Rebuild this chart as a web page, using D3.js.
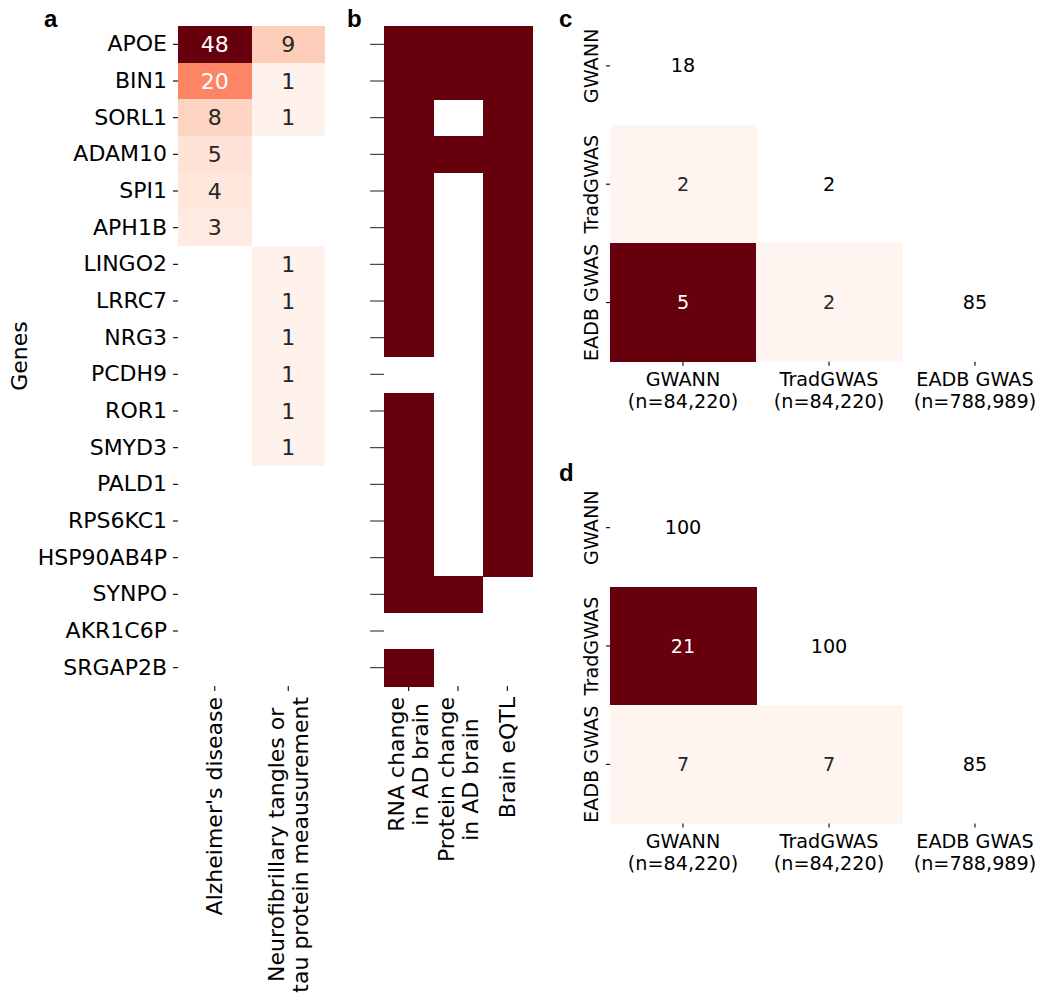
<!DOCTYPE html>
<html>
<head>
<meta charset="utf-8">
<script src="https://cdn.jsdelivr.net/npm/d3@7"></script>
<style>
  body { margin: 0; background: #fff; }
  svg text { font-family: "DejaVu Sans", sans-serif; }
  .panel-letter { font-family: "Liberation Sans", Arial, sans-serif !important; font-weight: bold; }
</style>
</head>
<body>
<svg id="chart" width="1040" height="993"></svg>
<script>
// ---- data ----
const genes = ["APOE", "BIN1", "SORL1", "ADAM10", "SPI1", "APH1B", "LINGO2", "LRRC7", "NRG3",
  "PCDH9", "ROR1", "SMYD3", "PALD1", "RPS6KC1", "HSP90AB4P", "SYNPO", "AKR1C6P", "SRGAP2B"];
const traitLabels = [["Alzheimer's disease"], ["Neurofibrillary tangles or", "tau protein meausurement"]];
const adCounts  = [48, 20, 8, 5, 4, 3, null, null, null, null, null, null, null, null, null, null, null, null];
const tauCounts = [9, 1, 1, null, null, null, 1, 1, 1, 1, 1, 1, null, null, null, null, null, null];

const evidenceLabels = [["RNA change", "in AD brain"], ["Protein change", "in AD brain"], ["Brain eQTL"]];
const rnaChange     = [1, 1, 1, 1, 1, 1, 1, 1, 1, 0, 1, 1, 1, 1, 1, 1, 0, 1];
const proteinChange = [1, 1, 0, 1, 0, 0, 0, 0, 0, 0, 0, 0, 0, 0, 0, 1, 0, 0];
const brainEqtl     = [1, 1, 1, 1, 1, 1, 1, 1, 1, 1, 1, 1, 1, 1, 1, 0, 0, 0];

const methods = ["GWANN", "TradGWAS", "EADB GWAS"];
const sampleSizes = ["(n=84,220)", "(n=84,220)", "(n=788,989)"];
// lower triangle, row = y method, col = x method
const overlapC = [[18, null, null], [2, 2, null], [5, 2, 85]];
const overlapD = [[100, null, null], [21, 100, null], [7, 7, 85]];

const darkRed = "#67000d";
const fsA = 22, fsC = 19.2;
const svg = d3.select("#chart");

// rotated (bottom-to-top) multi-line label, top of text block at yTop
function vLabel(g, cx, yTop, lines, size, spacing) {
  const n = lines.length;
  const texts = lines.map(function(line) {
    return g.append("text")
      .attr("font-size", size)
      .attr("text-anchor", "middle")
      .attr("dominant-baseline", "central")
      .attr("fill", "#000")
      .text(line);
  });
  const maxLen = d3.max(texts, function(t) { return t.node().getComputedTextLength(); });
  texts.forEach(function(t, i) {
    const x = cx + (i - (n - 1) / 2) * spacing;
    t.attr("transform", "translate(" + x + "," + (yTop + maxLen / 2) + ") rotate(-90)");
  });
}

function styleAxis(g) {
  g.select(".domain").remove();
  g.selectAll(".tick line").attr("stroke", "#000").attr("stroke-width", 1.1);
}

// ---- panel a ----
const aTop = 26, aBottom = 686;
const yGene = d3.scaleBand().domain(genes).range([aTop, aBottom]);
const xTrait = d3.scaleBand().domain([0, 1]).range([178, 325]);
const colorA = d3.scaleSequential(d3.interpolateReds).domain([0, d3.max(adCounts)]);

const pa = svg.append("g");
const aCells = [];
genes.forEach(function(gn, i) {
  [adCounts, tauCounts].forEach(function(arr, j) {
    if (arr[i] != null) aCells.push({ gene: gn, col: j, v: arr[i] });
  });
});
pa.selectAll("rect").data(aCells).join("rect")
  .attr("x", d => xTrait(d.col))
  .attr("y", d => yGene(d.gene))
  .attr("width", xTrait.bandwidth())
  .attr("height", yGene.bandwidth())
  .attr("shape-rendering", "crispEdges")
  .attr("fill", d => colorA(d.v));
pa.selectAll("text.ann").data(aCells).join("text")
  .attr("class", "ann")
  .attr("x", d => xTrait(d.col) + xTrait.bandwidth() / 2)
  .attr("y", d => yGene(d.gene) + yGene.bandwidth() / 2)
  .attr("text-anchor", "middle")
  .attr("dominant-baseline", "central")
  .attr("font-size", fsA)
  .attr("fill", d => d.v / d3.max(adCounts) > 0.35 ? "#fff" : "#262626")
  .text(d => d.v);

const axA = pa.append("g").attr("transform", "translate(178,0)")
  .call(d3.axisLeft(yGene).tickSize(5).tickPadding(6));
styleAxis(axA);
axA.selectAll(".tick text").attr("font-size", fsA).attr("fill", "#000")
  .attr("font-family", "DejaVu Sans");
const axAx = pa.append("g").attr("transform", "translate(0," + aBottom + ")")
  .call(d3.axisBottom(xTrait).tickSize(5).tickFormat(""));
styleAxis(axAx);
traitLabels.forEach(function(lines, j) {
  vLabel(pa, xTrait(j) + xTrait.bandwidth() / 2, 697, lines, fsA, 24);
});
pa.append("text")
  .attr("transform", "translate(19," + ((aTop + aBottom) / 2) + ") rotate(-90)")
  .attr("text-anchor", "middle").attr("dominant-baseline", "central")
  .attr("font-size", fsA).text("Genes");
svg.append("text").attr("class", "panel-letter").attr("x", 44).attr("y", 27)
  .attr("font-size", 24).text("a");

// ---- panel b ----
const xEv = d3.scaleBand().domain([0, 1, 2]).range([384, 532]);
const pb = svg.append("g");
const bCells = [];
[rnaChange, proteinChange, brainEqtl].forEach(function(arr, j) {
  arr.forEach(function(v, i) { if (v) bCells.push({ gene: genes[i], col: j }); });
});
pb.selectAll("rect").data(bCells).join("rect")
  .attr("x", d => xEv(d.col))
  .attr("y", d => yGene(d.gene))
  .attr("width", xEv.bandwidth() + 0.6)
  .attr("height", yGene.bandwidth() + 0.6)
  .attr("shape-rendering", "crispEdges")
  .attr("fill", darkRed);
const axB = pb.append("g").attr("transform", "translate(384,0)")
  .call(d3.axisLeft(yGene).tickSize(14).tickFormat(""));
styleAxis(axB);
axB.selectAll(".tick line").attr("stroke", "#333");
const axBx = pb.append("g").attr("transform", "translate(0," + aBottom + ")")
  .call(d3.axisBottom(xEv).tickSize(5).tickFormat(""));
styleAxis(axBx);
evidenceLabels.forEach(function(lines, j) {
  vLabel(pb, xEv(j) + xEv.bandwidth() / 2, 697, lines, fsA, 24);
});
svg.append("text").attr("class", "panel-letter").attr("x", 347).attr("y", 27)
  .attr("font-size", 24).text("b");

// ---- panels c, d ----
function overlapPanel(top, matrix, letter, letterY) {
  const g = svg.append("g");
  const bottom = top + 355;
  const x = d3.scaleBand().domain(methods).range([610, 1048]);
  const y = d3.scaleBand().domain(methods).range([top, bottom]);
  const cells = [];
  matrix.forEach(function(row, i) {
    row.forEach(function(v, j) {
      if (v != null) cells.push({ r: methods[i], c: methods[j], v: v, diag: i === j });
    });
  });
  const off = cells.filter(d => !d.diag).map(d => d.v);
  const color = d3.scaleSequential(d3.interpolateReds).domain(d3.extent(off));
  g.selectAll("rect").data(cells.filter(d => !d.diag)).join("rect")
    .attr("x", d => x(d.c)).attr("y", d => y(d.r))
    .attr("width", x.bandwidth() + 0.5).attr("height", y.bandwidth() + 0.5)
    .attr("shape-rendering", "crispEdges")
    .attr("fill", d => color(d.v));
  g.selectAll("text.ann").data(cells).join("text")
    .attr("class", "ann")
    .attr("x", d => x(d.c) + x.bandwidth() / 2)
    .attr("y", d => y(d.r) + y.bandwidth() / 2)
    .attr("text-anchor", "middle").attr("dominant-baseline", "central")
    .attr("font-size", fsC)
    .attr("fill", d => d.diag ? "#000" : (d.v === d3.max(off) ? "#fff" : "#262626"))
    .text(d => d.v);
  const ay = g.append("g").attr("transform", "translate(610,0)")
    .call(d3.axisLeft(y).tickSize(4).tickFormat(""));
  styleAxis(ay);
  methods.forEach(function(m) {
    g.append("text")
      .attr("transform", "translate(598," + (y(m) + y.bandwidth() / 2) + ") rotate(-90)")
      .attr("text-anchor", "middle").attr("font-size", fsC).text(m);
  });
  const ax = g.append("g").attr("transform", "translate(0," + bottom + ")")
    .call(d3.axisBottom(x).tickSize(4).tickFormat(""));
  styleAxis(ax);
  methods.forEach(function(m, j) {
    const cx = x(m) + x.bandwidth() / 2;
    g.append("text").attr("x", cx).attr("y", bottom + 24.5)
      .attr("text-anchor", "middle").attr("font-size", fsC).text(m);
    g.append("text").attr("x", cx).attr("y", bottom + 46)
      .attr("text-anchor", "middle").attr("font-size", fsC).text(sampleSizes[j]);
  });
  svg.append("text").attr("class", "panel-letter").attr("x", 559).attr("y", letterY)
    .attr("font-size", 24).text(letter);
}
overlapPanel(6.7, overlapC, "c", 27);
overlapPanel(468.5, overlapD, "d", 481);
</script>
</body>
</html>
